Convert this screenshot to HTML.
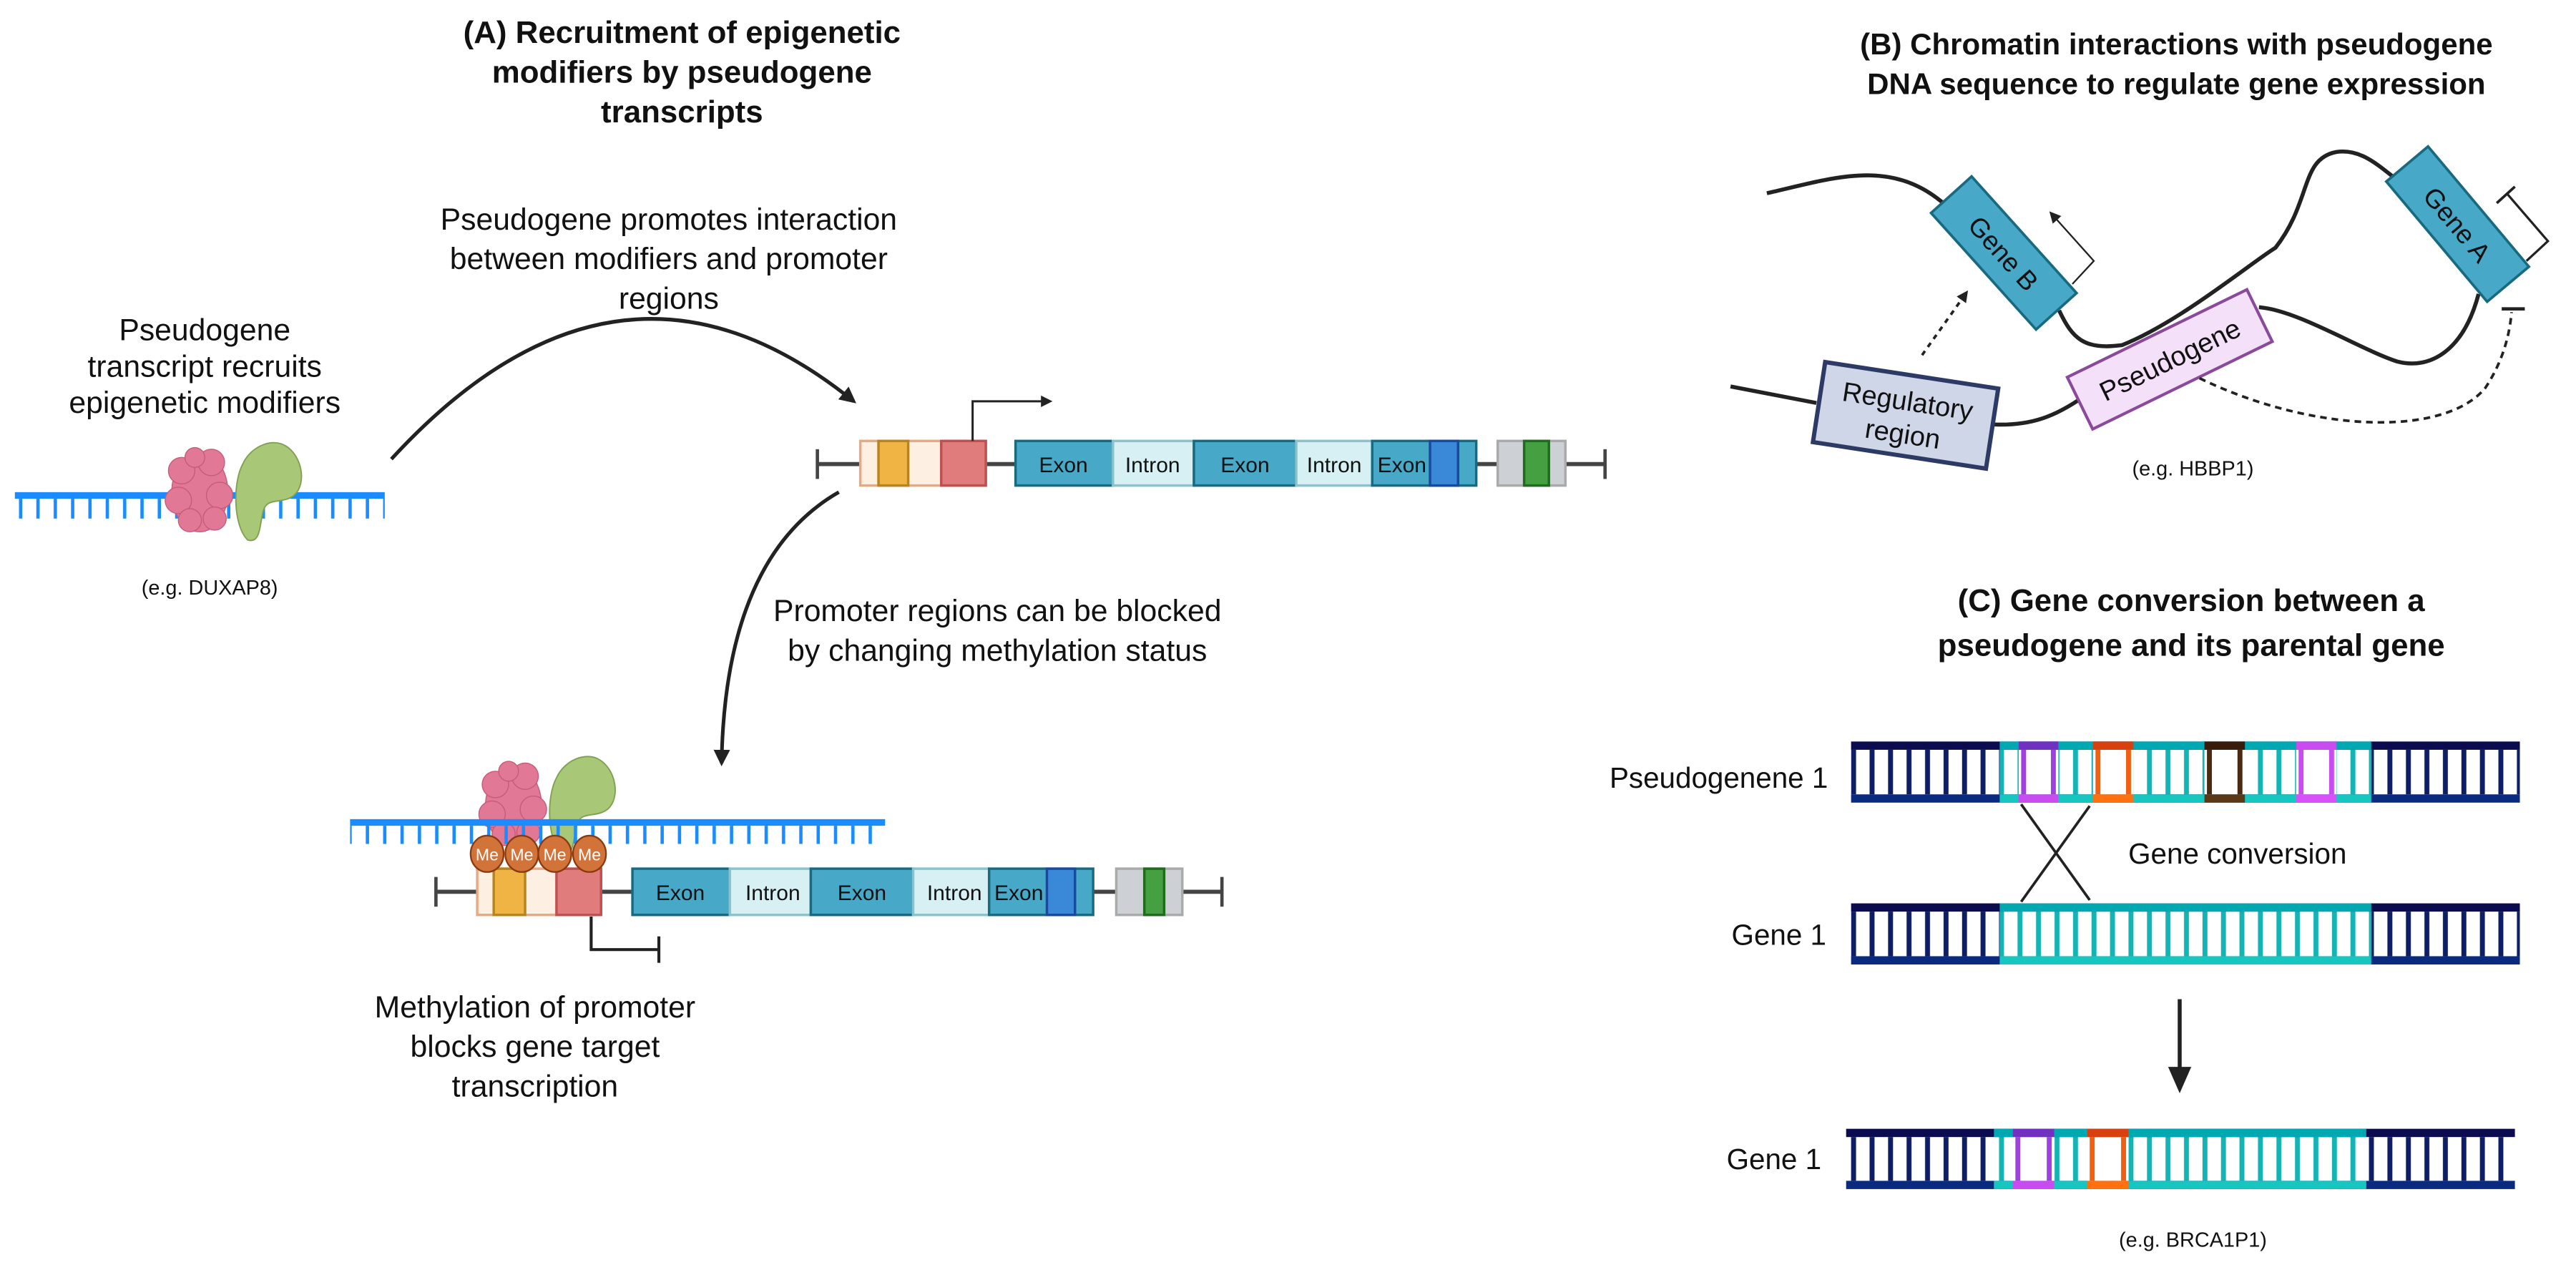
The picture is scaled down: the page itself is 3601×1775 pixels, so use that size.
<!DOCTYPE html>
<html><head><meta charset="utf-8"><style>
html,body{margin:0;padding:0;background:#fff;}
svg{display:block;}
text{font-family:"Liberation Sans",sans-serif;fill:#111;}
.t{font-weight:bold;font-size:19px;}
.tb{font-weight:bold;font-size:18.2px;}
.b{font-size:18.5px;}
.c{font-size:17.5px;}
.s{font-size:12.5px;}
.ex{font-size:13px;}
</style></head><body>
<svg width="3601" height="1775" viewBox="0 0 1560 769" preserveAspectRatio="none" xmlns="http://www.w3.org/2000/svg">
<defs>
<pattern id="blueT" patternUnits="userSpaceOnUse" width="10.5" height="20"><rect x="1" y="0" width="2" height="20" fill="#1a8cff"/></pattern>
<pattern id="navyR" patternUnits="userSpaceOnUse" width="11.2" height="10"><rect x="1" y="0" width="3" height="10" fill="#0d1d66"/></pattern>
<pattern id="tealR" patternUnits="userSpaceOnUse" width="11.2" height="10"><rect x="1" y="0" width="3" height="10" fill="#14b4b4"/></pattern>
<marker id="ah" viewBox="0 0 10 10" refX="8" refY="5" markerWidth="7" markerHeight="7" orient="auto" markerUnits="userSpaceOnUse"><path d="M0,0 L10,5 L0,10 Z" fill="#222"/></marker>
<marker id="ahs" viewBox="0 0 10 10" refX="8" refY="5" markerWidth="10" markerHeight="10" orient="auto" markerUnits="userSpaceOnUse"><path d="M0,0 L10,5 L0,10 Z" fill="#222"/></marker>
<g id="prot">
 <g fill="#e07896" stroke="#c85a7a" stroke-width="0.6">
  <ellipse cx="121" cy="298" rx="17" ry="24"/>
  <circle cx="110" cy="285" r="8"/><circle cx="128" cy="280" r="8"/><circle cx="118" cy="277" r="6"/>
  <circle cx="108" cy="303" r="8"/><circle cx="133" cy="300" r="8"/><circle cx="115" cy="315" r="7"/><circle cx="130" cy="314" r="7"/>
 </g>
 <path d="M150,327 C141,318 141,292 147,281 C152,270 165,265 173,270 C183,276 186,293 178,300 C170,306 161,300 159,311 C157,321 157,329 150,327 Z" fill="#a8c878" stroke="#7ea050" stroke-width="0.8"/>
</g>
</defs>

<text class="t" x="413" y="26" text-anchor="middle">(A) Recruitment of epigenetic</text>
<text class="t" x="413" y="50" text-anchor="middle">modifiers by pseudogene</text>
<text class="t" x="413" y="74" text-anchor="middle">transcripts</text>

<text class="b" x="405" y="139" text-anchor="middle">Pseudogene promotes interaction</text>
<text class="b" x="405" y="163" text-anchor="middle">between modifiers and promoter</text>
<text class="b" x="405" y="187" text-anchor="middle">regions</text>

<text class="b" x="124" y="206" text-anchor="middle">Pseudogene</text>
<text class="b" x="124" y="228" text-anchor="middle">transcript recruits</text>
<text class="b" x="124" y="250" text-anchor="middle">epigenetic modifiers</text>

<rect x="9" y="298" width="224" height="4" fill="#1a8cff"/>
<rect x="9" y="302" width="224" height="12" fill="url(#blueT)"/>
<use href="#prot"/>
<text class="s" x="127" y="360" text-anchor="middle">(e.g. DUXAP8)</text>

<path d="M237,278 Q375,128 517,243" fill="none" stroke="#222" stroke-width="2.2" marker-end="url(#ahs)"/>

<line x1="495" y1="281" x2="972" y2="281" stroke="#444" stroke-width="2.5"/>
<line x1="495" y1="272" x2="495" y2="290" stroke="#444" stroke-width="2"/>
<line x1="972" y1="272" x2="972" y2="290" stroke="#444" stroke-width="2"/>
<rect x="521" y="267" width="76" height="27" fill="#fdf0e2" stroke="#e8a880" stroke-width="1.5"/>
<rect x="532" y="267" width="18" height="27" fill="#f0b444" stroke="#b88420" stroke-width="1.5"/>
<rect x="570" y="267" width="27" height="27" fill="#e07c7c" stroke="#c05050" stroke-width="1.5"/>
<path d="M589,267 L589,243 L636,243" fill="none" stroke="#222" stroke-width="1.3" marker-end="url(#ah)"/>
<g stroke-width="1.5">
<rect x="615" y="267" width="59" height="27" fill="#48a8c8" stroke="#186a80"/>
<rect x="674" y="267" width="49" height="27" fill="#d6f0f4" stroke="#88c4cc"/>
<rect x="723" y="267" width="62" height="27" fill="#48a8c8" stroke="#186a80"/>
<rect x="785" y="267" width="46" height="27" fill="#d6f0f4" stroke="#88c4cc"/>
<rect x="831" y="267" width="63" height="27" fill="#48a8c8" stroke="#186a80"/>
<rect x="866" y="267" width="17" height="27" fill="#3a88d8" stroke="#1a4aa0"/>
<rect x="907" y="267" width="41" height="27" fill="#cdd0d4" stroke="#aaa"/>
<rect x="923" y="267" width="15" height="27" fill="#44a040" stroke="#226a20"/>
</g>
<text class="ex" x="644" y="286" text-anchor="middle">Exon</text>
<text class="ex" x="698" y="286" text-anchor="middle">Intron</text>
<text class="ex" x="754" y="286" text-anchor="middle">Exon</text>
<text class="ex" x="808" y="286" text-anchor="middle">Intron</text>
<text class="ex" x="849" y="286" text-anchor="middle">Exon</text>

<path d="M508,298 C452,330 438,400 437,462" fill="none" stroke="#222" stroke-width="2.2" marker-end="url(#ahs)"/>
<text class="b" x="604" y="376" text-anchor="middle">Promoter regions can be blocked</text>
<text class="b" x="604" y="400" text-anchor="middle">by changing methylation status</text>

<use href="#prot" transform="translate(190,190)"/>
<rect x="212" y="496" width="324" height="4" fill="#1a8cff"/>
<rect x="212" y="500" width="324" height="11" fill="url(#blueT)"/>
<line x1="264" y1="540" x2="740" y2="540" stroke="#444" stroke-width="2.5"/>
<line x1="264" y1="531" x2="264" y2="549" stroke="#444" stroke-width="2"/>
<line x1="740" y1="531" x2="740" y2="549" stroke="#444" stroke-width="2"/>
<rect x="289" y="526" width="75" height="28" fill="#fdf0e2" stroke="#e8a880" stroke-width="1.5"/>
<rect x="299" y="526" width="19" height="28" fill="#f0b444" stroke="#b88420" stroke-width="1.5"/>
<rect x="337" y="526" width="27" height="28" fill="#e07c7c" stroke="#c05050" stroke-width="1.5"/>
<g stroke-width="1.5">
<rect x="383" y="526" width="59" height="28" fill="#48a8c8" stroke="#186a80"/>
<rect x="442" y="526" width="49" height="28" fill="#d6f0f4" stroke="#88c4cc"/>
<rect x="491" y="526" width="62" height="28" fill="#48a8c8" stroke="#186a80"/>
<rect x="553" y="526" width="46" height="28" fill="#d6f0f4" stroke="#88c4cc"/>
<rect x="599" y="526" width="63" height="28" fill="#48a8c8" stroke="#186a80"/>
<rect x="634" y="526" width="17" height="28" fill="#3a88d8" stroke="#1a4aa0"/>
<rect x="676" y="526" width="40" height="28" fill="#cdd0d4" stroke="#aaa"/>
<rect x="693" y="526" width="12" height="28" fill="#44a040" stroke="#226a20"/>
</g>
<text class="ex" x="412" y="545" text-anchor="middle">Exon</text>
<text class="ex" x="468" y="545" text-anchor="middle">Intron</text>
<text class="ex" x="522" y="545" text-anchor="middle">Exon</text>
<text class="ex" x="578" y="545" text-anchor="middle">Intron</text>
<text class="ex" x="617" y="545" text-anchor="middle">Exon</text>
<g fill="#d2743a" stroke="#8a3a10" stroke-width="1">
<ellipse cx="295" cy="517" rx="10" ry="11"/><ellipse cx="316" cy="517" rx="10" ry="11"/>
<ellipse cx="336" cy="517" rx="10" ry="11"/><ellipse cx="357" cy="517" rx="10" ry="11"/>
</g>
<g font-size="10" text-anchor="middle">
<text x="295" y="521" style="fill:#fff">Me</text><text x="316" y="521" style="fill:#fff">Me</text>
<text x="336" y="521" style="fill:#fff">Me</text><text x="357" y="521" style="fill:#fff">Me</text>
</g>
<path d="M358,555 L358,575 L399,575" fill="none" stroke="#222" stroke-width="1.8"/>
<line x1="399" y1="567" x2="399" y2="583" stroke="#222" stroke-width="1.8"/>
<text class="b" x="324" y="616" text-anchor="middle">Methylation of promoter</text>
<text class="b" x="324" y="640" text-anchor="middle">blocks gene target</text>
<text class="b" x="324" y="664" text-anchor="middle">transcription</text>

<text class="tb" x="1318" y="33" text-anchor="middle">(B) Chromatin interactions with pseudogene</text>
<text class="tb" x="1318" y="57" text-anchor="middle">DNA sequence to regulate gene expression</text>
<g fill="none" stroke="#222" stroke-width="2.4">
<path d="M1070,117 C1110,108 1145,95 1178,124"/>
<path d="M1247,188 C1255,205 1262,212 1285,209 C1320,195 1362,160 1378,150 C1400,122 1393,96 1415,92 C1430,90 1440,100 1453,110"/>
<path d="M1501,178 C1492,212 1472,224 1452,219 C1430,212 1392,188 1368,186"/>
<path d="M1048,234 L1100,244"/>
<path d="M1207,257 C1230,258 1245,252 1262,240"/>
</g>
<g transform="translate(1213.5,153.2) rotate(48)">
<rect x="-47.5" y="-16.5" width="95" height="33" fill="#48a8c8" stroke="#186a80" stroke-width="1.6"/>
<text x="0" y="6" font-size="16" text-anchor="middle">Gene B</text>
</g>
<g transform="translate(1488.3,135.7) rotate(50)">
<rect x="-47.5" y="-16.5" width="95" height="33" fill="#48a8c8" stroke="#186a80" stroke-width="1.6"/>
<text x="0" y="6" font-size="16" text-anchor="middle">Gene A</text>
</g>
<g transform="translate(1154,251.5) rotate(8.7)">
<rect x="-53" y="-24.5" width="106" height="49" fill="#ced6e8" stroke="#2e3a66" stroke-width="2.6"/>
<text x="0" y="-3" font-size="16.5" text-anchor="middle">Regulatory</text>
<text x="0" y="17" font-size="16.5" text-anchor="middle">region</text>
</g>
<g transform="translate(1314,217.6) rotate(-26)">
<rect x="-60.5" y="-17.5" width="121" height="35" fill="#f4e0f8" stroke="#8a4a9a" stroke-width="1.8"/>
<text x="0" y="6" font-size="16.5" text-anchor="middle">Pseudogene</text>
</g>
<path d="M1164,215 L1191,177" fill="none" stroke="#222" stroke-width="1.6" stroke-dasharray="3,3" marker-end="url(#ah)"/>
<path d="M1255,172 L1268,158 L1242,129" fill="none" stroke="#222" stroke-width="1" marker-end="url(#ah)"/>
<path d="M1530,158 L1543,146 L1518,117" fill="none" stroke="#222" stroke-width="1.4"/>
<line x1="1512" y1="123" x2="1523" y2="113" stroke="#222" stroke-width="1.6"/>
<path d="M1332,229 C1400,262 1480,265 1505,235 C1517,217 1520,200 1521,189" fill="none" stroke="#222" stroke-width="1.6" stroke-dasharray="4,3"/>
<line x1="1515" y1="187" x2="1529" y2="187" stroke="#222" stroke-width="2"/>
<text class="s" x="1328" y="288" text-anchor="middle">(e.g. HBBP1)</text>

<text class="t" x="1327" y="370" text-anchor="middle">(C) Gene conversion between a</text>
<text class="t" x="1327" y="397" text-anchor="middle">pseudogene and its parental gene</text>

<rect x="1121" y="454" width="405" height="27" fill="url(#navyR)"/>
<rect x="1211" y="454" width="225" height="27" fill="#fff"/>
<rect x="1211" y="454" width="225" height="27" fill="url(#tealR)"/>
<rect x="1121" y="449" width="405" height="5" fill="#0b0b50"/>
<rect x="1121" y="481" width="405" height="5" fill="#0a2a80"/>
<rect x="1211" y="449" width="225" height="5" fill="#00a8b2"/>
<rect x="1211" y="481" width="225" height="5" fill="#18c6c0"/>
<g>
<rect x="1222.5" y="454" width="24" height="27" fill="#fff"/><rect x="1222.5" y="449" width="24" height="5" fill="#7030c0"/><rect x="1222.5" y="481" width="24" height="5" fill="#c84cf0"/><rect x="1224" y="454" width="3" height="27" fill="#a040e0"/><rect x="1242" y="454" width="3" height="27" fill="#a040e0"/>
<rect x="1267.5" y="454" width="24.5" height="27" fill="#fff"/><rect x="1267.5" y="449" width="24.5" height="5" fill="#d84010"/><rect x="1267.5" y="481" width="24.5" height="5" fill="#ff7010"/><rect x="1269" y="454" width="3" height="27" fill="#f06010"/><rect x="1287.5" y="454" width="3" height="27" fill="#f06010"/>
<rect x="1335" y="454" width="24.5" height="27" fill="#fff"/><rect x="1335" y="449" width="24.5" height="5" fill="#3a1a08"/><rect x="1335" y="481" width="24.5" height="5" fill="#5a3818"/><rect x="1336.5" y="454" width="3" height="27" fill="#4a2a10"/><rect x="1355" y="454" width="3" height="27" fill="#4a2a10"/>
<rect x="1390.5" y="454" width="24.5" height="27" fill="#fff"/><rect x="1390.5" y="449" width="24.5" height="5" fill="#c84cf0"/><rect x="1390.5" y="481" width="24.5" height="5" fill="#d850f8"/><rect x="1392" y="454" width="3" height="27" fill="#c84cf0"/><rect x="1410.5" y="454" width="3" height="27" fill="#c84cf0"/>
</g>
<text class="c" x="1107" y="477" text-anchor="end">Pseudogenene 1</text>

<line x1="1224" y1="487" x2="1265.5" y2="545" stroke="#222" stroke-width="1.6"/>
<line x1="1265.5" y1="488" x2="1224" y2="546" stroke="#222" stroke-width="1.6"/>
<text class="c" x="1355" y="523" text-anchor="middle">Gene conversion</text>

<rect x="1121" y="552" width="405" height="27" fill="url(#navyR)"/>
<rect x="1211" y="552" width="225" height="27" fill="#fff"/>
<rect x="1211" y="552" width="225" height="27" fill="url(#tealR)"/>
<rect x="1121" y="547" width="405" height="5" fill="#0b0b50"/>
<rect x="1121" y="579" width="405" height="5" fill="#0a2a80"/>
<rect x="1211" y="547" width="225" height="5" fill="#00a8b2"/>
<rect x="1211" y="579" width="225" height="5" fill="#18c6c0"/>
<text class="c" x="1106" y="572" text-anchor="end">Gene 1</text>

<line x1="1320" y1="605" x2="1320" y2="650" stroke="#222" stroke-width="2.4"/>
<path d="M1313,646 L1327,646 L1320,662 Z" fill="#222"/>

<rect x="1118" y="688.5" width="405" height="26.5" fill="url(#navyR)"/>
<rect x="1207.5" y="688.5" width="225.5" height="26.5" fill="#fff"/>
<rect x="1207.5" y="688.5" width="225.5" height="26.5" fill="url(#tealR)"/>
<rect x="1118" y="683.5" width="405" height="5" fill="#0b0b50"/>
<rect x="1118" y="715" width="405" height="5" fill="#0a2a80"/>
<rect x="1207.5" y="683.5" width="225.5" height="5" fill="#00a8b2"/>
<rect x="1207.5" y="715" width="225.5" height="5" fill="#18c6c0"/>
<rect x="1219" y="688.5" width="25" height="26.5" fill="#fff"/><rect x="1219" y="683.5" width="25" height="5" fill="#7030c0"/><rect x="1219" y="715" width="25" height="5" fill="#c84cf0"/><rect x="1220.5" y="688.5" width="3" height="26.5" fill="#a040e0"/><rect x="1239.5" y="688.5" width="3" height="26.5" fill="#a040e0"/>
<rect x="1264" y="688.5" width="25" height="26.5" fill="#fff"/><rect x="1264" y="683.5" width="25" height="5" fill="#d84010"/><rect x="1264" y="715" width="25" height="5" fill="#ff7010"/><rect x="1265.5" y="688.5" width="3" height="26.5" fill="#f06010"/><rect x="1284.5" y="688.5" width="3" height="26.5" fill="#f06010"/>
<text class="c" x="1103" y="708" text-anchor="end">Gene 1</text>
<text class="s" x="1328" y="755" text-anchor="middle">(e.g. BRCA1P1)</text>
</svg>
</body></html>
